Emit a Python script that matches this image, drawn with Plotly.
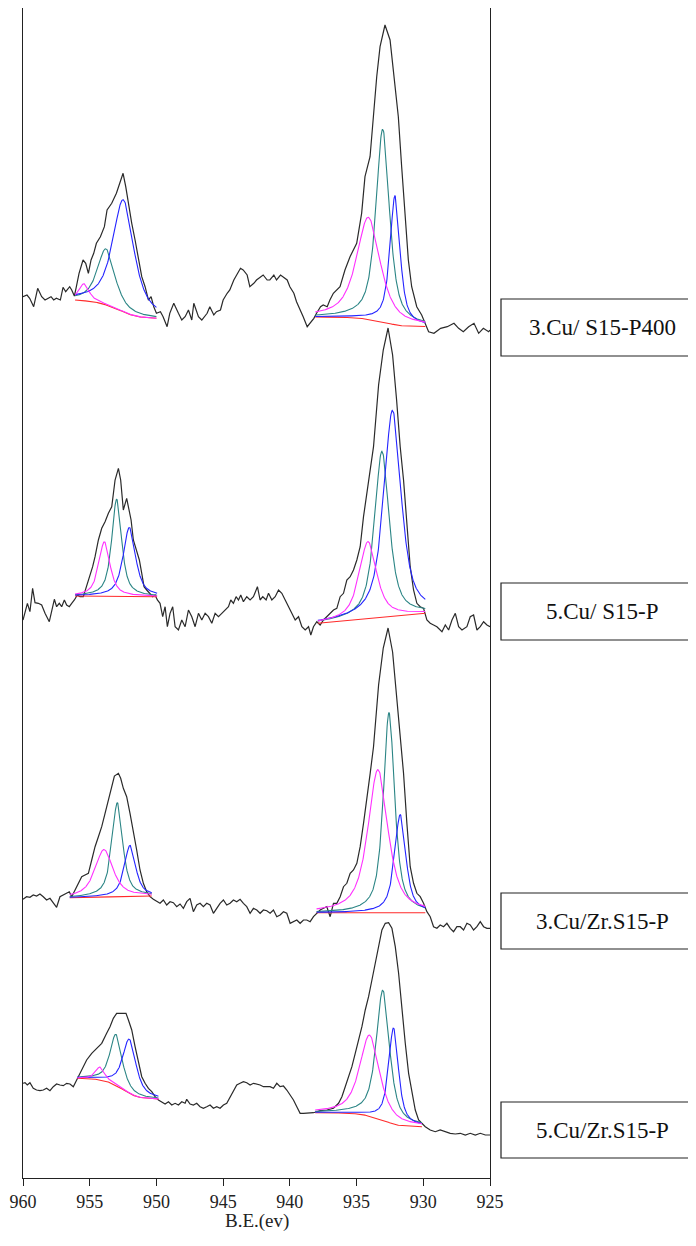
import numpy as np
import plotly.graph_objects as go

# ---------------- data ----------------
x_tick_values = [960, 955, 950, 945, 940, 935, 930, 925]
x_axis_title = "B.E.(ev)"
sample_names = ["3.Cu/ S15-P400", "5.Cu/ S15-P", "3.Cu/Zr.S15-P", "5.Cu/Zr.S15-P"]
stack_offsets = [878, 578, 278, 93]

# raw spectra (binding energy, counts in arbitrary units relative to each trace's offset)
s1_be = [960.0, 959.7, 959.5, 959.2, 958.9, 958.6, 958.35, 958.1, 957.9, 957.7, 957.5, 957.2, 957.0,
         956.8, 956.5, 956.35, 956.15, 956.0, 955.8, 955.5, 955.3, 955.1, 954.9, 954.7, 954.5, 954.2,
         953.9, 953.7, 953.35, 953.0, 952.7, 952.5, 952.3, 952.1, 951.85, 951.6, 951.35, 951.1, 950.85,
         950.6, 950.4, 950.2, 950.0, 949.7, 949.5, 949.2, 949.0, 948.7, 948.35, 948.1, 947.85, 947.6,
         947.35, 947.2, 946.85, 946.6, 946.2, 946.0, 945.7, 945.5, 945.2, 945.0, 944.7, 944.5, 944.2,
         944.0, 943.7, 943.5, 943.2, 943.0, 942.7, 942.5, 942.2, 942.0, 941.7, 941.5, 941.2, 941.0,
         940.7, 940.5, 940.2, 940.0, 939.7, 939.5, 939.2, 939.0, 938.7, 938.5, 938.2, 938.0, 937.7,
         937.5, 937.2, 937.0, 936.74, 936.24, 935.87, 935.49, 934.99, 934.62, 934.37, 933.99, 933.75,
         933.49, 933.24, 932.87, 932.49, 932.12, 931.87, 931.62, 931.37, 931.12, 930.87, 930.49, 930.12,
         929.6, 929.2, 928.7, 928.2, 927.7, 927.35, 927.0, 926.6, 926.2, 925.85, 925.5, 925.1, 925.0]
s1_counts = [3.3, 5, 1.7, -6.7, 11.7, 3.3, 0, 1.7, 3.3, 0, 1.7, 0, 12.7,
             8.3, 13.3, 10, 4, 13.3, 26.7, 40, 36.7, 26.7, 40, 46.7, 56.7, 63.3,
             73.3, 90, 96.7, 106.7, 120, 126.7, 113.3, 96.7, 76.7, 60, 40, 23.3, 13.3,
             0, 3.3, -6.7, -13.3, -11.7, -16.7, -26.7, -13.3, -3.3, -13.3, -20, -16.7, -10,
             -20, -3.3, -16.7, -20, -13.3, -6.7, -15, -11.7, -10, 0, 6.7, 10, 20,
             25, 31.7, 30, 25, 13.3, 16.7, 20, 23.3, 25, 20, 20, 25, 20,
             25, 23.3, 20, 13.3, 6.7, -1.7, -10, -16.7, -26.7, -23.3, -18.3, -13.3, -6.7,
             -5, -6.7, 0, 6.7, 13.3, 30, 43.3, 56.7, 86.7, 123.3, 143.3, 183.3,
             223.3, 253.3, 275, 260, 216.7, 183.3, 133.3, 83.3, 40, 13.3, -6.7, -15,
             -31.7, -33.3, -28.3, -26.7, -23.3, -28.3, -31.7, -26.7, -23.3, -33.3, -28.3, -31.7, -30]

s2_be = [960.0, 959.67, 959.48, 959.28, 959.1, 958.85, 958.6, 958.35, 958.03, 957.85, 957.65, 957.48,
         957.28, 957.1, 956.9, 956.73, 956.53, 956.35, 956.15, 955.93, 955.73, 955.48, 955.23, 954.98,
         954.78, 954.6, 954.35, 954.1, 953.85, 953.6, 953.35, 953.1, 952.85, 952.68, 952.48, 952.23,
         952.1, 951.9, 951.73, 951.48, 951.28, 951.1, 950.93, 950.73, 950.48, 950.28, 950.1, 949.93,
         949.73, 949.53, 949.35, 949.18, 948.98, 948.78, 948.6, 948.35, 948.1, 947.85, 947.6, 947.35,
         947.1, 946.85, 946.6, 946.35, 946.1, 945.85, 945.6, 945.35, 945.1, 944.85, 944.6, 944.43,
         944.23, 944.03, 943.85, 943.68, 943.48, 943.23, 942.98, 942.73, 942.43, 942.23, 942.03, 941.78,
         941.6, 941.35, 941.1, 940.85, 940.6, 940.35, 940.1, 939.85, 939.6, 939.35, 939.1, 938.85,
         938.6, 938.43, 938.23, 937.98, 937.73, 937.48, 937.23, 936.98, 936.73, 936.48, 936.23, 935.98,
         935.73, 935.48, 935.23, 934.98, 934.73, 934.48, 934.23, 933.98, 933.73, 933.35, 933.0, 932.64,
         932.3, 932.0, 931.73, 931.48, 931.23, 930.98, 930.73, 930.48, 930.23, 929.98, 929.73, 929.48,
         929.23, 928.98, 928.6, 928.35, 928.1, 927.85, 927.6, 927.35, 927.1, 926.73, 926.48, 926.23,
         925.98, 925.73, 925.48, 925.23, 925.0]
s2_counts = [-20, -3.3, -11.7, 11.7, -2.7, -3.3, -5, -13.3, -21.7, -10, 0.7, -6.7,
             -3.3, -6.7, 0, -5, -6.7, -3.3, 0, 5, 3.3, 3.3, 13.3, 23.3,
             33.3, 43.3, 60, 71.7, 78.3, 86.7, 93.3, 120, 131.7, 120, 90, 101.7,
             93.3, 80, 60, 50, 40, 26.7, 13.3, 10, 6.7, 3.3, 5, 0,
             -3.3, -16.7, -6.7, -26.7, -13.3, -6.7, -26.7, -30, -20, -26.7, -10, -16.7,
             -26.7, -13.3, -20, -13.3, -16.7, -23.3, -13.3, -16.7, -13.3, -10, -6.7, 0,
             -3.3, 3.3, 0, 5, -1.7, 3.3, 0, 3.3, 13.3, 0, 3.3, 0,
             6.7, 0, 3.3, 10, 6.7, 0, -6.7, -13.3, -20, -16.7, -26.7, -30,
             -26.7, -35, -26.7, -21.7, -25, -20, -16.7, -13.3, -10, -8.3, 3.3, 6.7,
             20, 23.3, 30, 40, 53.3, 83.3, 106.7, 133.3, 153.3, 215, 250, 272,
             245, 200, 153.3, 120, 76.7, 33.3, 10, -3.3, -6.7, -8.3, -20, -23.3,
             -25, -26.7, -31.7, -25, -30, -20, -13.3, -26.7, -30, -26.7, -16.7, -15,
             -30, -26.7, -21.7, -25, -26.7]

s3_be = [960.0, 959.73, 959.48, 959.23, 958.98, 958.73, 958.48, 958.23, 957.98, 957.73, 957.48, 957.23,
         956.98, 956.73, 956.53, 956.35, 956.1, 955.85, 955.6, 955.35, 955.1, 954.85, 954.6, 954.35,
         954.1, 953.85, 953.6, 953.35, 953.15, 952.85, 952.68, 952.48, 952.23, 951.98, 951.73, 951.48,
         951.23, 950.98, 950.73, 950.48, 950.23, 949.98, 949.73, 949.48, 949.23, 948.98, 948.73, 948.48,
         948.23, 947.98, 947.73, 947.48, 947.23, 946.98, 946.73, 946.48, 946.23, 945.98, 945.73, 945.48,
         945.23, 944.98, 944.73, 944.48, 944.23, 943.98, 943.73, 943.48, 943.23, 942.98, 942.73, 942.48,
         942.23, 941.98, 941.73, 941.48, 941.23, 940.98, 940.73, 940.48, 940.23, 939.98, 939.73, 939.48,
         939.23, 938.98, 938.73, 938.48, 938.23, 937.98, 937.73, 937.48, 937.23, 936.98, 936.73, 936.48,
         936.23, 935.98, 935.73, 935.48, 935.23, 934.98, 934.73, 934.48, 934.23, 933.98, 933.73, 933.35,
         933.0, 932.64, 932.3, 932.0, 931.73, 931.48, 931.23, 930.98, 930.73, 930.48, 930.23, 929.98,
         929.73, 929.48, 929.23, 928.98, 928.73, 928.48, 928.23, 927.98, 927.73, 927.48, 927.23, 926.98,
         926.73, 926.48, 926.23, 925.98, 925.73, 925.48, 925.23, 925.0]
s3_counts = [0.7, 3.3, 2.7, 5, 4, 6, 3.3, 0, 1.7, -3.3, -7.3, 3.3,
             5, 6.7, 8.3, 3.3, 10, 16.7, 23.3, 25, 26.7, 40, 53.3, 63.3,
             73.3, 86.7, 100, 113.3, 124, 126.7, 121.7, 111.7, 103.3, 86.7, 70, 50,
             30, 16.7, 8.3, 3.3, 0.7, -1.7, -3.3, 0, -5, -1.7, -2.7, -6.7,
             -4, -8.3, -1.7, 1.7, -11.7, -5, -3.3, -6.7, -3.3, -5, -13.3, -8.3,
             -3.3, 0, -5, -3.3, 0, -1.7, 0.7, -3.3, -6.7, -13.3, -8.3, -10,
             -13.3, -10, -10.7, -13.3, -10, -16.7, -15, -11.7, -13.3, -23.3, -21.7, -20,
             -23.3, -20, -20, -21.7, -16.7, -13.3, -10, -8.3, -6.7, -16.7, -3.3, -3.3,
             3.3, 13.3, 16.7, 26.7, 30, 36.7, 53.3, 76.7, 100, 126.7, 153.3, 215,
             252, 272, 248, 205, 160, 126.7, 76.7, 33.3, 16.7, 6.7, 3.3, -3.3,
             -11.7, -16.7, -26.7, -28.3, -25, -26.7, -23.3, -28.3, -31.7, -26.7, -26.7, -30,
             -23.3, -25, -30, -26.7, -21.7, -26.7, -28.3, -28.3]

s4_be = [960.0, 959.85, 959.68, 959.48, 959.23, 958.98, 958.73, 958.48, 958.23, 957.98, 957.73, 957.48,
         957.23, 956.98, 956.73, 956.48, 956.23, 955.98, 955.73, 955.48, 955.23, 954.85, 954.48, 954.1,
         953.73, 953.48, 953.23, 952.98, 952.6, 952.28, 952.1, 951.85, 951.6, 951.35, 951.1, 950.85,
         950.6, 950.35, 950.1, 949.85, 949.6, 949.35, 949.1, 948.85, 948.6, 948.35, 948.1, 947.85,
         947.73, 947.48, 947.23, 946.98, 946.73, 946.48, 946.23, 945.98, 945.73, 945.48, 945.23, 944.98,
         944.73, 944.48, 944.23, 943.98, 943.73, 943.48, 943.23, 942.98, 942.73, 942.48, 942.23, 941.98,
         941.73, 941.48, 941.23, 940.98, 940.73, 940.48, 940.23, 939.98, 939.73, 939.48, 939.23, 938.98,
         938.73, 938.48, 938.23, 937.98, 937.73, 937.23, 936.73, 936.35, 936.1, 935.85, 935.6, 935.35,
         935.1, 934.85, 934.6, 934.35, 934.1, 933.85, 933.6, 933.35, 933.1, 932.85, 932.6, 932.35,
         932.1, 931.85, 931.6, 931.35, 931.1, 930.85, 930.6, 930.35, 930.1, 929.85, 929.48, 929.1,
         928.73, 928.35, 927.98, 927.6, 927.23, 926.85, 926.48, 926.1, 925.73, 925.35, 925.0]
s4_counts = [1.7, 2.3, 0, 2.3, -3.3, -5, -5.7, -5, -3.3, -5.7, -1.7, 1,
             0, -0.7, 1.7, 1, -1.7, 5, 11.7, 18.3, 25, 31.7, 36.7, 41.7,
             51.7, 58.3, 66.7, 71.7, 71.7, 71.7, 65, 55, 38.3, 21.7, 8.3, 1.7,
             -3.3, -6.7, -11.7, -15, -16.7, -19, -16.7, -20, -18.3, -20, -16.7, -18.3,
             -14.3, -19, -20, -18.3, -21.7, -23.3, -21.7, -20, -23.3, -21.7, -23.3, -20,
             -18.3, -11.7, -5, 0, 1.7, 3.3, 2.3, 0, 1.7, 1, 0, -1.7,
             -1.7, -1.7, -3.3, 1.7, -1.7, -1, -5, -10, -15, -21.7, -28.3, -28.3,
             -28.3, -28.3, -27.7, -26.7, -25.7, -25, -23.3, -18.3, -11.7, -1.7, 8.3, 18.3,
             31.7, 45, 58.3, 75, 88.3, 105, 121.7, 141.7, 155, 161.7, 162.3, 156.7,
             138.3, 111.7, 75, 41.7, 11.7, -8.3, -25, -35, -38.3, -41.7, -45, -46.7,
             -45, -46.7, -48.3, -49, -48.3, -50, -48.3, -50, -48.3, -50, -50]

# peak-fit results: two windows per spectrum (Cu 2p1/2, Cu 2p3/2)
# window = (high BE, low BE); background levels = (at high BE, at low BE)
# peaks in order: teal, blue, magenta -> (centre, height, FWHM)
s1_windows = [(956.1, 950.0), (938.1, 929.85)]
s1_bg_levels = [(0.0, -18.3), (-17.0, -26.5)]
s1_bg_kind = ["shirley", "shirley"]
s1_centers = [[953.78, 952.48, 955.43], [933.04, 932.12, 934.12]]
s1_heights = [[56, 112, 17], [193, 129, 102]]
s1_fwhm = [[1.55, 1.9, 0.92], [1.2, 0.9, 2.1]]

s2_windows = [(956.1, 949.95), (937.9, 929.85)]
s2_bg_levels = [(4.0, 3.3), (-23.3, -13.3)]
s2_bg_kind = ["linear", "linear"]
s2_centers = [[952.98, 952.03, 953.9], [933.1, 932.31, 934.15]]
s2_heights = [[97, 69, 54.5], [166, 206, 77]]
s2_fwhm = [[0.88, 1.1, 1.0], [1.3, 1.55, 1.55]]

s3_windows = [(956.5, 950.35), (938.0, 929.85)]
s3_bg_levels = [(2.3, 4.0), (-12.7, -12.7)]
s3_bg_kind = ["linear", "linear"]
s3_centers = [[952.93, 951.98, 953.93], [932.57, 931.73, 933.4]]
s3_heights = [[94, 51, 47.5], [200, 98, 143]]
s3_fwhm = [[0.95, 1.0, 1.6], [1.0, 1.0, 1.78]]

s4_windows = [(955.93, 949.85), (938.1, 930.1)]
s4_bg_levels = [(6.7, -14.0), (-27.7, -41.7)]
s4_bg_kind = ["shirley", "shirley"]
s4_centers = [[953.03, 952.03, 954.23], [933.03, 932.23, 934.03]]
s4_heights = [[51, 54, 13], [130, 96, 81]]
s4_fwhm = [[1.07, 1.2, 0.8], [1.18, 0.88, 1.75]]

# ---------------- build ----------------
raw = [(s1_be, s1_counts), (s2_be, s2_counts), (s3_be, s3_counts), (s4_be, s4_counts)]
fits = [
    (s1_windows, s1_bg_levels, s1_bg_kind, s1_centers, s1_heights, s1_fwhm),
    (s2_windows, s2_bg_levels, s2_bg_kind, s2_centers, s2_heights, s2_fwhm),
    (s3_windows, s3_bg_levels, s3_bg_kind, s3_centers, s3_heights, s3_fwhm),
    (s4_windows, s4_bg_levels, s4_bg_kind, s4_centers, s4_heights, s4_fwhm),
]

RAW_COLOR = "#2a2a2a"
BG_COLOR = "#ff2a2a"
PEAK_COLORS = ["#2b8585", "#2424ff", "#ff30ff"]


def pseudo_voigt(e, c, h, w, eta=0.75):
    d = (e - c) / w
    return h * (eta / (1 + 4 * d * d) + (1 - eta) * np.exp(-4 * np.log(2) * d * d))


fig = go.Figure()

for k in range(4):
    off = stack_offsets[k]
    be, cts = raw[k]
    fig.add_trace(go.Scatter(x=be, y=[off + c for c in cts], mode="lines",
                             line=dict(color=RAW_COLOR, width=1.2), hoverinfo="skip"))
    windows, levels, kinds, centers, heights, fwhms = fits[k]
    for j in range(2):
        hi, lo = windows[j]
        b_hi, b_lo = levels[j]
        e = np.linspace(lo, hi, 320)
        comps = [pseudo_voigt(e, centers[j][p], heights[j][p], fwhms[j][p]) for p in range(3)]
        if kinds[j] == "shirley":
            tot = comps[0] + comps[1] + comps[2]
            cum = np.concatenate([[0.0], np.cumsum(0.5 * (tot[1:] + tot[:-1]) * np.diff(e))])
            frac = cum / cum[-1]
        else:
            frac = (e - lo) / (hi - lo)
        bg = b_lo + (b_hi - b_lo) * frac
        fig.add_trace(go.Scatter(x=e, y=off + bg, mode="lines",
                                 line=dict(color=BG_COLOR, width=1.1), hoverinfo="skip"))
        for p in range(3):
            fig.add_trace(go.Scatter(x=e, y=off + bg + comps[p], mode="lines",
                                     line=dict(color=PEAK_COLORS[p], width=1.1), hoverinfo="skip"))

# ---------------- layout ----------------
FONT = "Liberation Serif, Times New Roman, serif"
PAGE_SHIFT = 8            # the page body offsets the figure by 8 px
W, H = 696 - 2 * PAGE_SHIFT, 1246 - 2 * PAGE_SHIFT
PLOT_LEFT, PLOT_RIGHT = 23, 490      # page pixels
PLOT_TOP, PLOT_BOTTOM = 8, 1178      # page pixels
L = PLOT_LEFT - PAGE_SHIFT
T = PLOT_TOP - PAGE_SHIFT
R = W - (PLOT_RIGHT - PAGE_SHIFT)
B = H - (PLOT_BOTTOM - PAGE_SHIFT)
plot_w = PLOT_RIGHT - PLOT_LEFT
plot_h = PLOT_BOTTOM - PLOT_TOP


def px_to_paper_x(px):
    return (px - PLOT_LEFT) / plot_w


def py_to_y(py):
    return PLOT_BOTTOM - py


box_py = [(299, 356), (583, 640), (893, 949), (1102, 1158)]
shapes = []
annotations = []
for name, (y0, y1) in zip(sample_names, box_py):
    shapes.append(dict(type="rect", xref="paper", yref="y",
                       x0=px_to_paper_x(501), x1=px_to_paper_x(760),
                       y0=py_to_y(y1), y1=py_to_y(y0),
                       line=dict(color="#222222", width=1.2), fillcolor="white"))
    annotations.append(dict(text=name, xref="paper", yref="y",
                            x=px_to_paper_x(602), y=py_to_y((y0 + y1) / 2),
                            xanchor="center", yanchor="middle", showarrow=False,
                            font=dict(family=FONT, size=23, color="#111111")))

annotations.append(dict(text=x_axis_title, xref="paper", yref="paper",
                        x=0.5, y=(py_to_y(1221)) / plot_h, xanchor="center", yanchor="middle",
                        showarrow=False, font=dict(family=FONT, size=19, color="#222222")))

fig.update_layout(
    width=W, height=H, autosize=False,
    margin=dict(l=L, r=R, t=T, b=B, pad=0),
    paper_bgcolor="white", plot_bgcolor="white",
    showlegend=False, hovermode=False,
    shapes=shapes, annotations=annotations,
    xaxis=dict(range=[960, 925], tickvals=x_tick_values, ticktext=[str(v) for v in x_tick_values],
               ticks="outside", ticklen=7, tickwidth=1.2, tickcolor="#222222",
               showline=True, mirror=True, linecolor="#222222", linewidth=1.3,
               showgrid=False, zeroline=False,
               tickfont=dict(family=FONT, size=18, color="#222222")),
    yaxis=dict(range=[0, plot_h], showticklabels=False, ticks="",
               showline=True, mirror=True, linecolor="#222222", linewidth=1.3,
               showgrid=False, zeroline=False),
)

fig.write_html("out.html")
